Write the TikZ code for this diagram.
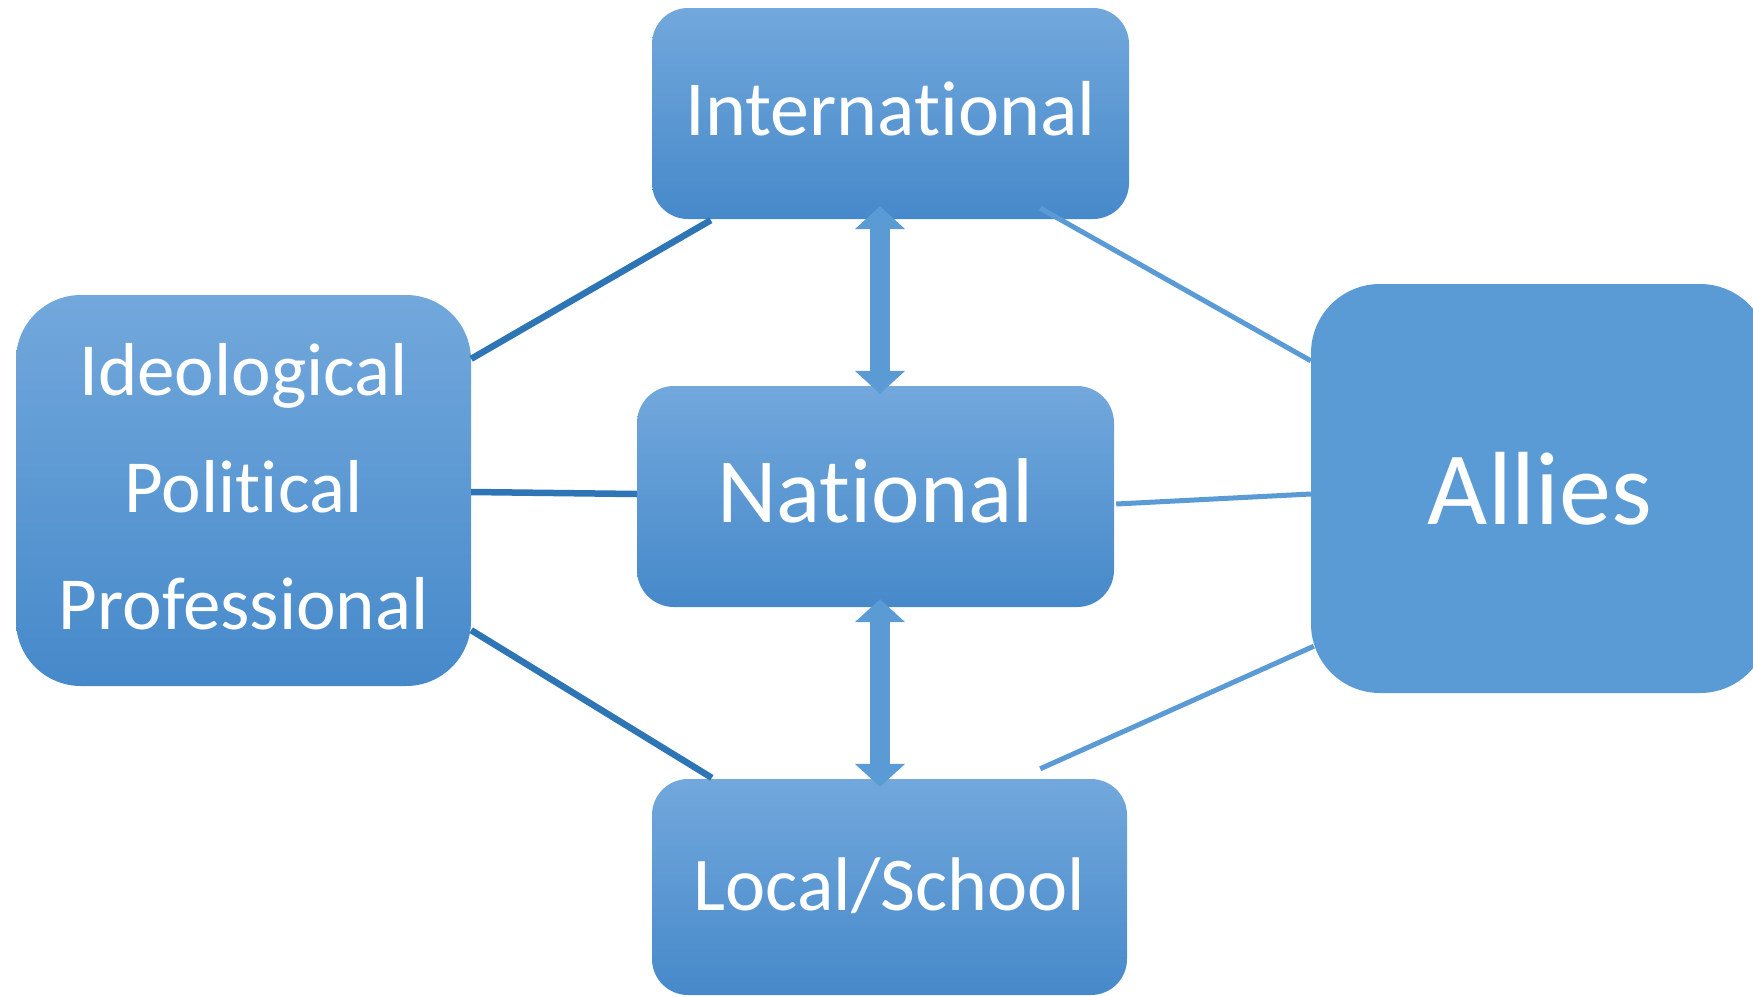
\documentclass[tikz,border=0pt]{standalone}
\usepackage{fontspec}
\setmainfont{Carlito}[Ligatures={NoCommon,NoDiscretionary,NoRare}]
\usetikzlibrary{calc,arrows.meta}
\definecolor{boxtop}{HTML}{72A8DC}
\definecolor{boxbot}{HTML}{4689CA}
\definecolor{flatbox}{HTML}{5B9BD5}
\definecolor{darkline}{HTML}{2E75B6}
\definecolor{lightline}{HTML}{5B9BD5}
\tikzset{
  gbox/.style={rectangle, top color=boxtop, bottom color=boxbot, draw=none,
    text=white, inner sep=0pt, align=center},
  fbox/.style={rectangle, fill=flatbox, draw=none, text=white, inner sep=0pt, align=center},
  darkln/.style={draw=darkline, line width=6.5pt},
  lightln/.style={draw=lightline, line width=5pt},
  dblarrow/.style={draw=flatbox, line width=20pt,
    {Triangle[width=49pt,length=23pt]}-{Triangle[width=49pt,length=23pt]}}
}
\begin{document}
\begin{tikzpicture}[x=1pt,y=-1pt]
\useasboundingbox (0,0) rectangle (1753,996);
% boxes
\node[gbox, rounded corners=36pt, minimum width=477pt, minimum height=211pt] (intl) at (890.5,113.5) {};
\node[white, font=\fontsize{78}{94}\selectfont] (intltxt) at ($(intl.center)+(0,-4.5)$) {International};
\node[gbox, rounded corners=37pt, minimum width=477pt, minimum height=221pt] (nat) at (875.5,496.5) {};
\node[white, font=\fontsize{92}{110}\selectfont] (nattxt) at ($(nat.center)+(0,-5.5)$) {National};
\node[gbox, rounded corners=36pt, minimum width=475pt, minimum height=216pt] (local) at (889.5,887) {};
\node[white, font=\fontsize{76}{92}\selectfont] (localtxt) at ($(local.center)+(0,-1)$) {Local/School};
\node[gbox, rounded corners=65pt, minimum width=455pt, minimum height=391pt] (ideo) at (243.5,490.5) {};
\node[white, align=center, font=\fontsize{75}{117}\selectfont] (ideotxt) at ($(ideo.center)+(0,-3.5)$) {Ideological\\Political\\Professional};
\node[fbox, rounded corners=69pt, minimum width=458pt, minimum height=409pt,
  font=\fontsize{104}{124}\selectfont] (allies) at (1540,488.5) {Allies};
% connectors
\draw[darkln] ($(ideo.north east)+(0,64)$) -- ($(intl.south west)+(59,1)$);
\draw[darkln] ($(ideo.east)+(0,1.5)$) -- ($(nat.west)+(0,-2.5)$);
\draw[darkln] ($(ideo.south east)+(0,-56)$) -- ($(local.north west)+(60,-1)$);
\draw[lightln] ($(intl.south east)+(-89,-11)$) -- ($(allies.north west)+(0,77)$);
\draw[lightln] ($(nat.east)+(2,7.5)$) -- ($(allies.west)+(0,5.5)$);
\draw[lightln] ($(local.north east)+(-87,-10)$) -- ($(allies.south west)+(3,-47)$);
% double arrows
\draw[dblarrow] ($(intl.south)+(-10.5,-13)$) -- ($(nat.north)+(4.5,8)$);
\draw[dblarrow] ($(nat.south)+(4.5,-8)$) -- ($(local.north)+(-9.5,8)$);
\end{tikzpicture}
\end{document}
